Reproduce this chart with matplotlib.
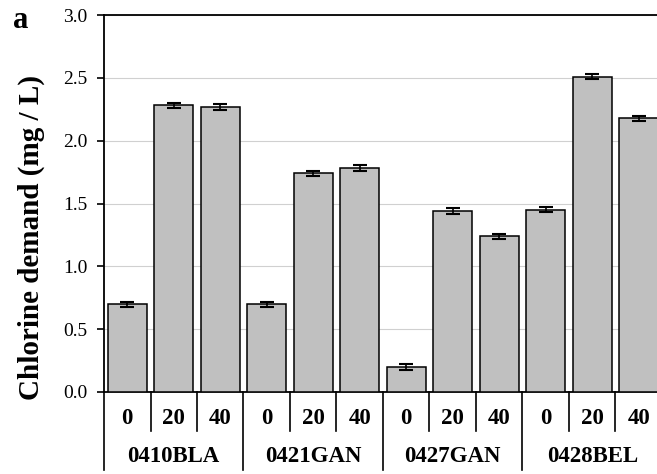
import matplotlib
matplotlib.use("Agg")
import matplotlib.pyplot as plt
import numpy as np

plt.rcParams['font.family'] = ['Liberation Serif', 'DejaVu Serif']

groups = ["0410BLA", "0421GAN", "0427GAN", "0428BEL"]
doses = ["0", "20", "40"]
values = [0.70, 2.28, 2.27, 0.70, 1.74, 1.78, 0.20, 1.44, 1.24, 1.45, 2.51, 2.18]
errors = [0.02, 0.02, 0.025, 0.02, 0.02, 0.025, 0.025, 0.025, 0.02, 0.02, 0.02, 0.02]
yticks = [0.0, 0.5, 1.0, 1.5, 2.0, 2.5, 3.0]

W, H = 657, 474
fig = plt.figure(figsize=(W / 100, H / 100), dpi=100)
ax = fig.add_axes([104 / W, 1 - 392 / H, 558 / W, 377 / H])

n = len(values)
x = np.arange(n)
ax.bar(x, values, width=0.84, color='#c0c0c0', edgecolor='black', linewidth=1.1, zorder=3)
ax.errorbar(x, values, yerr=errors, fmt='none', ecolor='black', elinewidth=1.2,
            capsize=4.7, capthick=1.5, zorder=4)

ax.set_xlim(-0.5, n - 0.5)
ax.set_ylim(0, 3.0)
ax.set_yticks(yticks)
ax.set_yticklabels([f"{v:.1f}" for v in yticks], fontsize=14)
ax.yaxis.grid(True, color='#d0d0d0', linewidth=0.8, zorder=0)
ax.set_axisbelow(True)
ax.tick_params(axis='y', direction='out', length=5, width=1.2, pad=7)
ax.set_xticks([])
ax.spines['right'].set_visible(False)
for s in ['left', 'top', 'bottom']:
    ax.spines[s].set_linewidth(1.3)

trans = ax.get_xaxis_transform()
y_short = -39 / 377
y_long = -78 / 377
for i in range(n + 1):
    xb = i - 0.5
    yb = y_long if i % 3 == 0 else y_short
    ax.plot([xb, xb], [0, yb], color='black', lw=1.2, transform=trans, clip_on=False)

for i in range(n):
    ax.text(i, -26 / 377, doses[i % 3], transform=trans, ha='center', va='center',
            fontsize=16.5, fontweight='bold')
for g, name in enumerate(groups):
    ax.text(g * 3 + 1, -65 / 377, name, transform=trans, ha='center', va='center',
            fontsize=16.5, fontweight='bold')

fig.text(31 / W, 1 - 237 / H, "Chlorine demand (mg / L)", rotation=90, ha='center', va='center',
         fontsize=21, fontweight='bold')
fig.text(21 / W, 1 - 20 / H, "a", ha='center', va='center', fontsize=22, fontweight='bold')

fig.savefig("out.png", dpi=100)
